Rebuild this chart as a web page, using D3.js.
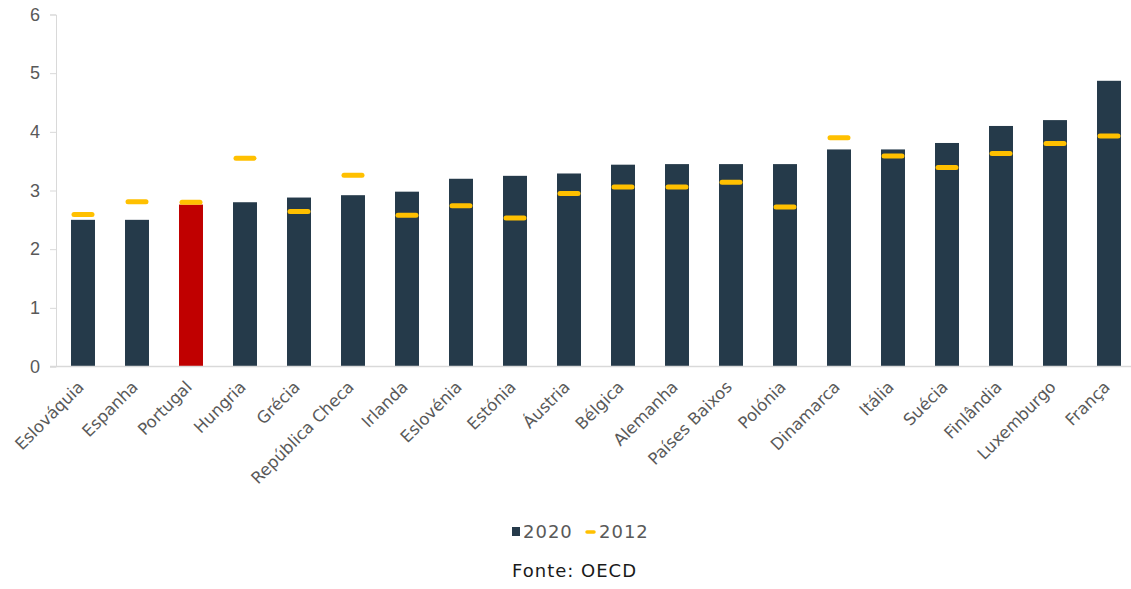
<!DOCTYPE html>
<html>
<head>
<meta charset="utf-8">
<script src="https://cdn.jsdelivr.net/npm/d3@7"></script>
<style>
  html, body { margin: 0; padding: 0; background: #fff; }
  svg { display: block; font-family: 'DejaVu Sans', Verdana, sans-serif; }
</style>
</head>
<body>
<svg id="chart" width="1131" height="589"></svg>
<script>
// data
const countries = ['Eslováquia', 'Espanha', 'Portugal', 'Hungria', 'Grécia', 'República Checa', 'Irlanda',
  'Eslovénia', 'Estónia', 'Áustria', 'Bélgica', 'Alemanha', 'Países Baixos', 'Polónia', 'Dinamarca',
  'Itália', 'Suécia', 'Finlândia', 'Luxemburgo', 'França'];
const values2020 = [2.5, 2.5, 2.76, 2.8, 2.88, 2.92, 2.98, 3.2, 3.25, 3.29, 3.44, 3.45, 3.45, 3.45, 3.7,
  3.7, 3.81, 4.1, 4.2, 4.87];
const values2012 = [2.59, 2.81, 2.8, 3.55, 2.64, 3.26, 2.58, 2.74, 2.53, 2.95, 3.06, 3.06, 3.14, 2.72, 3.9,
  3.59, 3.39, 3.63, 3.8, 3.93];
const yTicks = [0, 1, 2, 3, 4, 5, 6];
const highlight = 'Portugal';

const svg = d3.select('#chart');
const margin = { left: 56, top: 14, bottom: 366 };

const x = d3.scaleBand().domain(countries).range([56, 1136]).paddingInner(0.556).paddingOuter(0.278);
const y = d3.scaleLinear().domain([0, 6]).range([366.5, 14.5]);

// y axis
const yAxis = d3.axisLeft(y).tickValues(yTicks).tickSize(6).tickPadding(10).tickFormat(d3.format('d'));
const gy = svg.append('g').attr('transform', 'translate(' + margin.left + ',0)').call(yAxis);
gy.select('.domain').attr('stroke', '#d9d9d9');
gy.selectAll('.tick line').attr('stroke', '#d9d9d9');
gy.selectAll('.tick text').attr('fill', '#595959').style('font-size', '18px');

// bars 2020
svg.append('g').selectAll('rect').data(countries).join('rect')
  .attr('x', d => x(d))
  .attr('y', (d, i) => y(values2020[i]))
  .attr('width', x.bandwidth())
  .attr('height', (d, i) => y(0) - y(values2020[i]))
  .attr('fill', d => d === highlight ? '#c00000' : '#253a4a');

// baseline
svg.append('line').attr('x1', 50).attr('x2', 1131).attr('y1', y(0)).attr('y2', y(0))
  .attr('stroke', '#d9d9d9').attr('stroke-width', 1.5);

// 2012 markers
svg.append('g').selectAll('line').data(countries).join('line')
  .attr('x1', d => x(d) + 3)
  .attr('x2', d => x(d) + x.bandwidth() - 3)
  .attr('y1', (d, i) => y(values2012[i]))
  .attr('y2', (d, i) => y(values2012[i]))
  .attr('stroke', '#ffc000').attr('stroke-width', 5).attr('stroke-linecap', 'round');

// category labels
svg.append('g').selectAll('text').data(countries).join('text')
  .attr('transform', d => 'translate(' + (x(d) + x.bandwidth() / 2 + 2) + ',388) rotate(-45)')
  .attr('text-anchor', 'end')
  .attr('fill', '#595959')
  .style('font-size', '16.5px')
  .text(d => d);

// legend
const leg = svg.append('g');
leg.append('rect').attr('x', 512).attr('y', 527).attr('width', 8).attr('height', 9).attr('fill', '#253a4a');
leg.append('text').attr('x', 523).attr('y', 537.5).attr('fill', '#595959')
  .style('font-size', '18px').style('letter-spacing', '1px').text('2020');
leg.append('line').attr('x1', 587).attr('x2', 594).attr('y1', 532).attr('y2', 532)
  .attr('stroke', '#ffc000').attr('stroke-width', 3.5).attr('stroke-linecap', 'round');
leg.append('text').attr('x', 599).attr('y', 537.5).attr('fill', '#595959')
  .style('font-size', '18px').style('letter-spacing', '1px').text('2012');

// source
svg.append('text').attr('x', 512).attr('y', 577).attr('fill', '#1a1a1a')
  .style('font-size', '18px').style('letter-spacing', '1px').text('Fonte: OECD');
</script>
</body>
</html>
